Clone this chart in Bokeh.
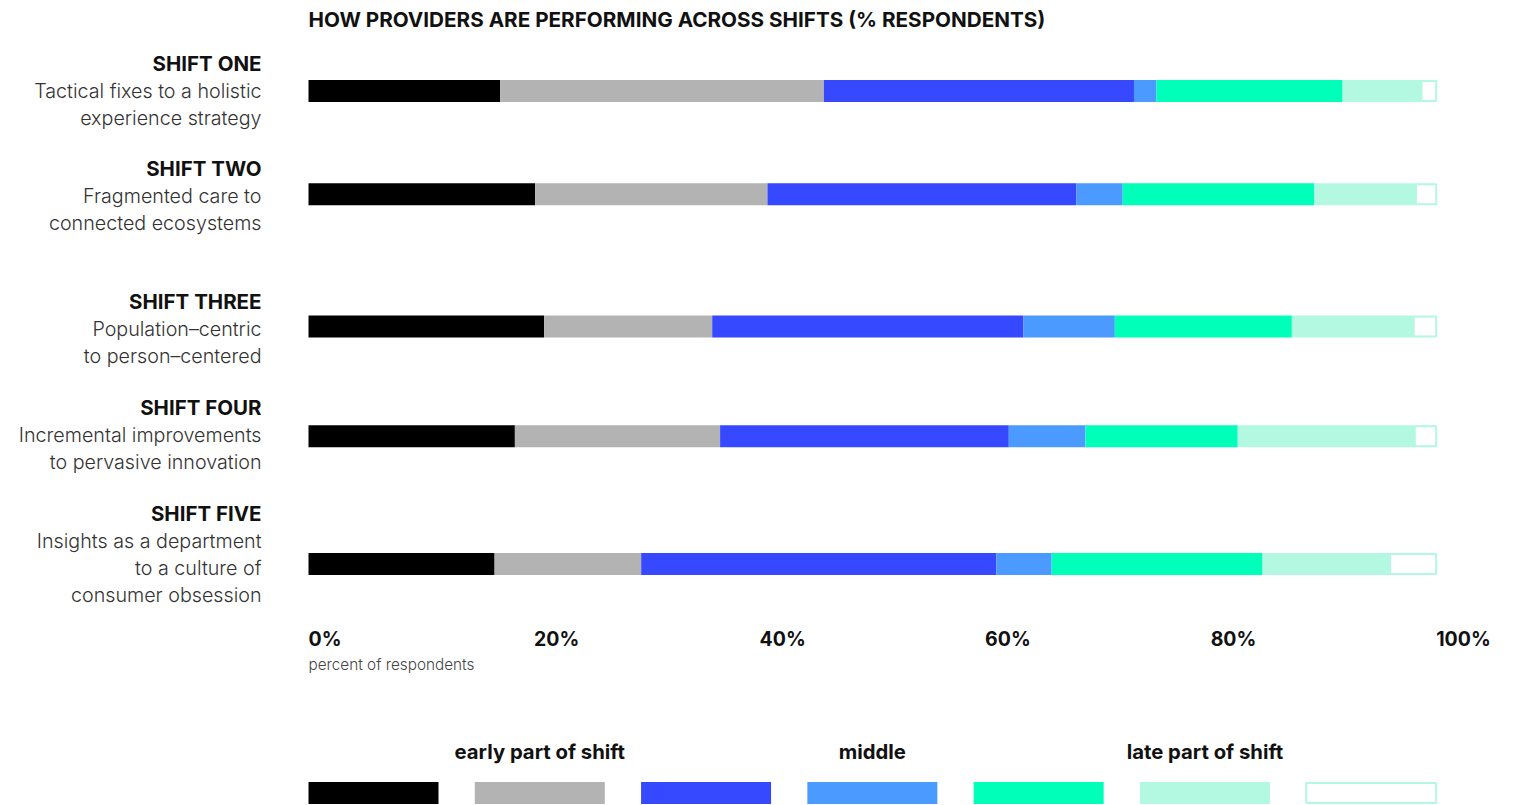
from bokeh.plotting import figure
from bokeh.models import Range1d
from bokeh.core.properties import value
from bokeh.embed import file_html
from bokeh.resources import INLINE

# ---------------- data ----------------
title = "HOW PROVIDERS ARE PERFORMING ACROSS SHIFTS (% RESPONDENTS)"
shift_names = ["SHIFT ONE", "SHIFT TWO", "SHIFT THREE", "SHIFT FOUR", "SHIFT FIVE"]
shift_desc = [
    ["Tactical fixes to a holistic", "experience strategy"],
    ["Fragmented care to", "connected ecosystems"],
    ["Population\u2013centric", "to person\u2013centered"],
    ["Incremental improvements", "to pervasive innovation"],
    ["Insights as a department", "to a culture of", "consumer obsession"],
]
# % respondents per stage of the shift (one value per shift, in the order above)
early_1 = [17.0, 20.1, 20.9, 18.3, 16.5]
early_2 = [28.7, 20.6, 14.9, 18.2, 13.0]
middle_1 = [27.5, 27.4, 27.6, 25.6, 31.5]
middle_2 = [2.0, 4.1, 8.1, 6.8, 4.9]
late_1 = [16.5, 17.0, 15.7, 13.5, 18.7]
late_2 = [7.0, 9.0, 10.8, 15.7, 11.3]
late_3 = [1.3, 1.8, 2.0, 1.9, 4.1]
stages = [early_1, early_2, middle_1, middle_2, late_1, late_2, late_3]
stage_colors = ["#000000", "#b3b3b3", "#3649ff", "#4a9aff", "#00ffb9", "#b3f8e0", "#ffffff"]
legend_groups = ["early part of shift", "middle", "late part of shift"]
tick_values = [0, 20, 40, 60, 80, 100]
tick_labels = ["0%", "20%", "40%", "60%", "80%", "100%"]
axis_note = "percent of respondents"

# ---------------- layout ----------------
W, H = 1498, 805
PX = 11.277          # pixels per percentage point
X0 = 308             # canvas pixel of 0%
row_y = [90.5, 193.7, 326, 435.7, 563.5]      # bar centres (px from top)
head_y = [63, 168, 301, 407, 513]             # header centres of the left labels
LINE = 27
BAR_H = 22
OUTLINE = "#b3f8e0"

BOLD = value("Inter")
LIGHT = value("'Inter Light', 'Lato Light', Inter, sans-serif")

p = figure(width=W, height=H,
           x_range=Range1d(-X0 / PX, (W - X0) / PX),
           y_range=Range1d(H, 0),
           output_backend="svg", toolbar_location=None,
           x_axis_location=None, y_axis_location=None,
           min_border=0, outline_line_color=None)
p.grid.visible = False
p.background_fill_color = "white"
p.border_fill_color = "white"

# stacked bars
left = [0.0] * len(shift_names)
for vals, col in zip(stages, stage_colors):
    right = [l + v for l, v in zip(left, vals)]
    if col == "#ffffff":
        p.hbar(y=row_y, left=left, right=right, height=BAR_H - 2,
               fill_color=col, line_color=OUTLINE, line_width=2)
    else:
        p.hbar(y=row_y, left=left, right=right, height=BAR_H,
               fill_color=col, line_color=None)
    left = right

# title
p.text(x=[0], y=[19], text=[title], text_font=BOLD, text_font_style="bold",
       text_font_size="20.7px", text_color="#111111",
       text_align="left", text_baseline="middle")

# left labels
lab_x = (261 - X0) / PX
hx, hy, ht = [], [], []
dx, dy, dt = [], [], []
for name, desc, y in zip(shift_names, shift_desc, head_y):
    hx.append(lab_x); hy.append(y); ht.append(name)
    for j, line in enumerate(desc):
        dx.append(lab_x); dy.append(y + LINE * (j + 1)); dt.append(line)
p.text(x=hx, y=hy, text=ht, text_font=BOLD, text_font_style="bold",
       text_font_size="20.5px", text_color="#111111",
       text_align="right", text_baseline="middle")
p.text(x=dx, y=dy, text=dt, text_font=LIGHT,
       text_font_size="19.7px", text_color="#333333",
       text_align="right", text_baseline="middle")

# tick labels (left aligned at the tick)
p.text(x=tick_values, y=[638] * len(tick_values), text=tick_labels,
       text_font=BOLD, text_font_style="bold", text_font_size="19.5px",
       text_color="#111111", text_align="left", text_baseline="middle")
p.text(x=[0], y=[664], text=[axis_note], text_font=LIGHT,
       text_font_size="15.3px", text_color="#444444",
       text_align="left", text_baseline="middle")

# legend
n = len(stage_colors)
box_w = 130 / PX
step = (100 - box_w) / (n - 1)
lx_left = [i * step for i in range(n)]
lx_right = [l + box_w for l in lx_left]
box_y = [792.5] * n
p.hbar(y=box_y[:-1], left=lx_left[:-1], right=lx_right[:-1], height=BAR_H,
       fill_color=stage_colors[:-1], line_color=None)
p.hbar(y=box_y[-1:], left=lx_left[-1:], right=lx_right[-1:], height=BAR_H - 2,
       fill_color="#ffffff", line_color=OUTLINE, line_width=2)
centers = [(lx_left[i] + lx_right[i]) / 2 for i in (1, 3, 5)]
p.text(x=centers, y=[751] * 3, text=legend_groups, text_font=BOLD,
       text_font_style="bold", text_font_size="20.3px", text_color="#111111",
       text_align="center", text_baseline="middle")

open("out.html", "w").write(file_html(p, INLINE))
